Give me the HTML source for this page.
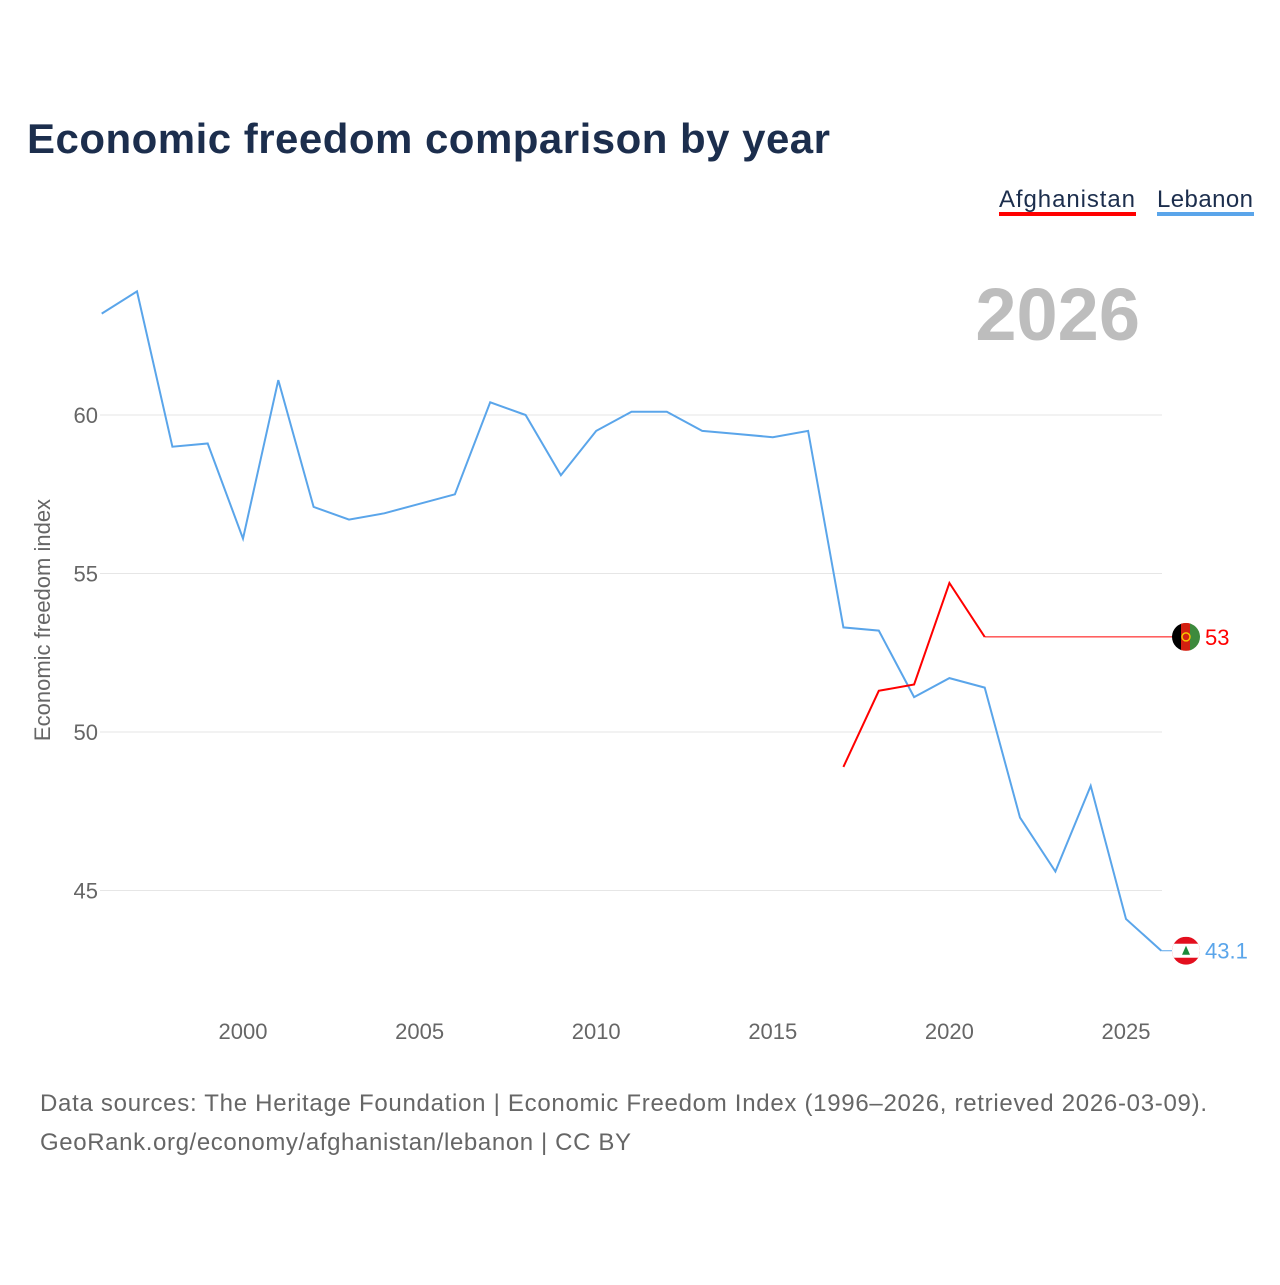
<!DOCTYPE html>
<html><head><meta charset="utf-8"><style>
body{margin:0;background:#fff;font-family:"Liberation Sans",sans-serif;}
#wrap{position:relative;width:1280px;height:1280px;}
</style></head><body>
<div id="wrap">
<svg id="chart" width="1280" height="1280">
<text x="27" y="153" font-size="42" font-weight="bold" fill="#1c2e4d" textLength="803">Economic freedom comparison by year</text>
<g>
<text x="999" y="207" font-size="24" fill="#1c2e4d" textLength="136">Afghanistan</text>
<rect x="999" y="212" width="137" height="4" fill="#f00"/>
<text x="1157" y="207" font-size="24" fill="#1c2e4d" textLength="96">Lebanon</text>
<rect x="1157" y="212" width="97" height="4" fill="#5aa5ea"/>
</g>
<text x="1140" y="340" font-size="74" font-weight="bold" fill="#bdbdbd" text-anchor="end">2026</text>
<g id="grid"></g>
<g id="xaxis"></g>
<text transform="translate(50,620) rotate(-90)" font-size="22" fill="#666" text-anchor="middle">Economic freedom index</text>
<g id="series"></g>
<text x="40" y="1111" font-size="24" fill="#666" textLength="1167">Data sources: The Heritage Foundation | Economic Freedom Index (1996–2026, retrieved 2026-03-09).</text>
<text x="40" y="1150" font-size="24" fill="#666" textLength="591">GeoRank.org/economy/afghanistan/lebanon | CC BY</text>
</svg>
</div>
<script>
const years = [1996,1997,1998,1999,2000,2001,2002,2003,2004,2005,2006,2007,2008,2009,2010,2011,2012,2013,2014,2015,2016,2017,2018,2019,2020,2021,2022,2023,2024,2025,2026];
const lebanon = [63.2,63.9,59.0,59.1,56.1,61.1,57.1,56.7,56.9,57.2,57.5,60.4,60.0,58.1,59.5,60.1,60.1,59.5,59.4,59.3,59.5,53.3,53.2,51.1,51.7,51.4,47.3,45.6,48.3,44.1,43.1];
const afgYears = [2017,2018,2019,2020,2021];
const afghanistan = [48.9,51.3,51.5,54.7,53.0];
const yTicks = [45,50,55,60];
const xTicks = [2000,2005,2010,2015,2020,2025];
const X = y => 243 + (y-2000)*35.32;
const Y = v => 415 - (v-60)*31.7;
const NS="http://www.w3.org/2000/svg";
function mk(tag,attrs,parent){const e=document.createElementNS(NS,tag);for(const k in attrs)e.setAttribute(k,attrs[k]);parent.appendChild(e);return e;}
const grid=document.getElementById('grid'), xa=document.getElementById('xaxis'), ser=document.getElementById('series');
yTicks.forEach(t=>{
  const l=mk('line',{x1:100,x2:1162,y1:Y(t),y2:Y(t),stroke:'#e6e6e6','stroke-width':1},grid);
  
  
  const tx=mk('text',{x:98,y:Y(t)+8,'font-size':22,fill:'#666','text-anchor':'end'},grid);
  tx.textContent=t;
  
  
});
xTicks.forEach(t=>{
  const tx=mk('text',{x:X(t),y:1039,'font-size':22,fill:'#666','text-anchor':'middle'},xa);
  tx.textContent=t;
  
  
});
function line(xs,vs,color,name){
  const d=xs.map((y,i)=>(i?'L':'M')+X(y).toFixed(1)+','+Y(vs[i]).toFixed(1)).join('');
  const p=mk('path',{d:d,fill:'none',stroke:color,'stroke-width':2},ser);
  
  
  const last=vs[vs.length-1], lx=X(xs[xs.length-1]);
  const c=mk('line',{x1:lx,x2:1186,y1:Y(last),y2:Y(last),stroke:color,'stroke-width':1},ser);
  
  
  const lab=mk('text',{x:1205,y:Y(last)+8,'font-size':22,fill:color},ser);
  lab.textContent=last;
  
  
  return Y(last);
}
line(years,lebanon,'#5aa5ea','lebanon');
line(afgYears,afghanistan,'#f00','afghanistan');
const ay=Y(afghanistan[afghanistan.length-1]);
const fa=mk('g',{},ser);


const ca=mk('clipPath',{id:'ca'},fa);mk('circle',{cx:1186,cy:ay,r:14},ca);
const ga=mk('g',{'clip-path':'url(#ca)'},fa);
mk('rect',{x:1172,y:ay-14,width:10,height:28,fill:'#000'},ga);
mk('rect',{x:1181,y:ay-14,width:10,height:28,fill:'#d32011'},ga);
mk('rect',{x:1190,y:ay-14,width:10,height:28,fill:'#3d8a3d'},ga);
mk('circle',{cx:1186,cy:ay,r:4,fill:'none',stroke:'#f5c400','stroke-width':1.5},ga);
const ly=Y(lebanon[lebanon.length-1]);
const fl=mk('g',{},ser);


const cp=mk('clipPath',{id:'cl'},fl);mk('circle',{cx:1186,cy:ly,r:14},cp);
const gl=mk('g',{'clip-path':'url(#cl)'},fl);
mk('rect',{x:1172,y:ly-14,width:28,height:28,fill:'#e30f1e'},gl);
mk('rect',{x:1172,y:ly-7,width:28,height:14,fill:'#fff'},gl);
mk('path',{d:`M1186,${ly-5} L1190,${ly+4} L1182,${ly+4}Z`,fill:'#1a8a3a'},gl);
</script>
</body></html>
